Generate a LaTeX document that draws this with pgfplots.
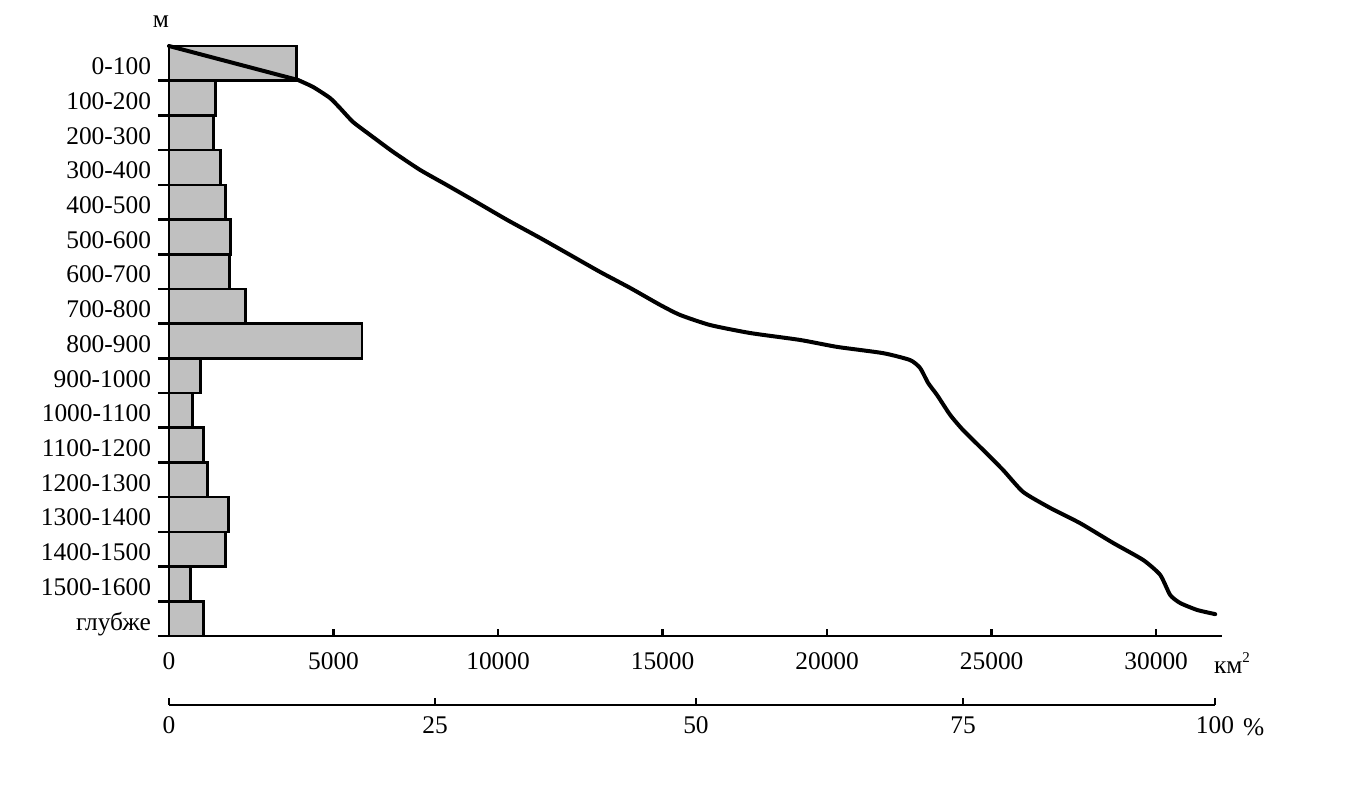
\documentclass[border=0pt]{standalone}
\usepackage{pgfplots}
\pgfplotsset{compat=1.18}
\usepackage{fontspec}
\setmainfont{Liberation Serif}
\newcommand{\lbl}{\fontsize{12.7bp}{15bp}\selectfont}
\definecolor{barfill}{HTML}{C0C0C0}
\begin{document}
\begin{tikzpicture}
\useasboundingbox (0,0) rectangle (676bp,398bp);
\begin{axis}[
  at={(84.5bp,80bp)}, anchor=south west,
  scale only axis, width=526.5bp, height=295bp,
  xmin=0, xmax=32000, ymin=-1700, ymax=0,
  clip=false,
  axis x line=bottom, axis y line=left,
  axis line style={-, line width=1.3bp},
  tick align=inside,
  tick style={black, line width=1.3bp},
  major tick length=3.5bp,
  minor tick length=5.5bp,
  xtick={0,5000,10000,15000,20000,25000,30000},
  xticklabels={0,5000,10000,15000,20000,25000,30000},
  scaled x ticks=false,
  xticklabel style={font=\lbl, anchor=north, yshift=-5bp},
  ytick={-100,-200,-300,-400,-500,-600,-700,-800,-900,-1000,-1100,-1200,-1300,-1400,-1500,-1600,-1700},
  yticklabels={0-100,100-200,200-300,300-400,400-500,500-600,600-700,700-800,800-900,900-1000,1000-1100,1100-1200,1200-1300,1300-1400,1400-1500,1500-1600,глубже},
  yticklabel style={font=\lbl, anchor=base east, yshift=3bp, xshift=-5.5bp},
  major y tick style={draw=none},
  minor ytick={-100,-200,-300,-400,-500,-600,-700,-800,-900,-1000,-1100,-1200,-1300,-1400,-1500,-1600,-1700},
  minor y tick style={xshift=-5.5bp, line width=1.3bp, black},
  minor x tick num=0,
]
\addplot[xbar, bar width=100, fill=barfill, draw=black, line width=1.3bp] coordinates {
(3880,-50) (1420,-150) (1360,-250) (1570,-350) (1720,-450) (1870,-550) (1840,-650) (2330,-750) (5860,-850) (960,-950) (720,-1050) (1050,-1150) (1170,-1250) (1810,-1350) (1720,-1450) (660,-1550) (1050,-1650)
};
\addplot[black, line width=2bp, line cap=round] coordinates {
(0,0) (3921,-98)
};
\addplot[black, line width=2bp, line join=round, line cap=round, smooth, tension=0.35] coordinates {
(3921,-98) (4377,-118) (4894,-150) (5198,-179) (5593,-219) (6109,-256) (6809,-305) (7629,-357) (8450,-401) (9240,-444) (10274,-501) (11277,-553) (12097,-597) (13100,-651) (14012,-697) (14924,-746) (15532,-775) (16444,-804) (17660,-827) (19179,-847) (20304,-867) (21702,-885) (22523,-905) (22827,-928) (23070,-971) (23343,-1006) (23739,-1063) (24134,-1107) (24742,-1164) (25350,-1222) (25957,-1285) (26778,-1331) (27690,-1375) (28693,-1432) (29605,-1481) (30122,-1524) (30426,-1582) (30729,-1605) (31246,-1625) (31793,-1637)
};
\end{axis}
\begin{axis}[
  at={(84.5bp,45.5bp)}, anchor=south west,
  scale only axis, width=523bp, height=10bp,
  xmin=0, xmax=100, ymin=0, ymax=1,
  axis x line=bottom, axis y line=none,
  axis line style={-, line width=1.3bp},
  tick align=inside,
  tick style={black, line width=1.3bp},
  major tick length=3.5bp,
  xtick={0,25.43,50.38,75.91,100},
  xticklabels={0,25,50,75,100},
  xticklabel style={font=\lbl, anchor=north, yshift=-2.5bp},
]
\addplot[draw=none] coordinates {(0,0)};
\end{axis}
\node[font=\lbl] at (80.5bp,387bp) {м};
\node[font=\lbl, anchor=west] at (603.5bp,66.5bp) {км\raisebox{1.0ex}{\fontsize{7.5bp}{8bp}\selectfont 2}};
\node[font=\lbl, anchor=west] at (618bp,34.5bp) {\%};
\end{tikzpicture}
\end{document}
